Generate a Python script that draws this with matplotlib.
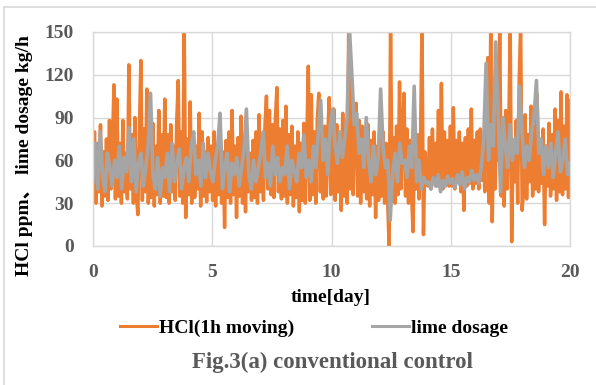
import numpy as np
import matplotlib
matplotlib.use("Agg")
import matplotlib.pyplot as plt
from matplotlib.lines import Line2D

# HCl (1h moving), 16 samples per day
hcl = [
    45, 80, 30, 72, 38, 85, 28, 66, 35, 75, 32, 88, 40, 70, 113, 33,
    103, 35, 72, 30, 88, 38, 65, 33, 127, 40, 78, 30, 90, 36, 22, 80,
    130, 32, 82, 38, 110, 30, 75, 34, 86, 28, 70, 36, 95, 30, 78, 35,
    103, 34, 78, 30, 85, 38, 70, 32, 88, 116, 35, 80, 30, 155, 20, 75,
    36, 101, 30, 78, 34, 70, 40, 93, 28, 80, 35, 66, 31, 76, 38, 70,
    32, 80, 28, 70, 36, 84, 30, 66, 13, 74, 34, 80, 30, 95, 36, 70,
    20, 76, 35, 91, 30, 70, 24, 78, 38, 65, 32, 74, 34, 80, 30, 92,
    38, 78, 32, 84, 105, 40, 95, 36, 85, 34, 90, 111, 38, 82, 33, 88,
    35, 98, 30, 78, 36, 84, 28, 70, 34, 80, 24, 72, 32, 86, 30, 76,
    126, 32, 106, 36, 80, 30, 88, 107, 38, 75, 33, 84, 35, 78, 104, 36,
    40, 96, 32, 85, 38, 78, 25, 93, 35, 80, 30, 155, 40, 110, 36, 90,
    100, 35, 88, 30, 84, 38, 78, 33, 85, 28, 74, 36, 80, 20, 70, 32,
    75, 35, 80, 30, 72, 34, 0, 155, 38, 76, 30, 84, 36, 115, 40, 80,
    107, 35, 82, 30, 74, 38, 10, 70, 40, 78, 33, 72, 155, 8, 66, 45,
    42, 76, 40, 82, 45, 72, 42, 95, 44, 114, 40, 80, 46, 74, 42, 84,
    42, 97, 40, 74, 45, 80, 38, 72, 25, 76, 42, 82, 44, 96, 40, 74,
    44, 80, 40, 82, 46, 76, 38, 86, 132, 30, 155, 17, 90, 40, 105, 60,
    155, 35, 84, 28, 95, 40, 78, 155, 3, 74, 45, 88, 30, 115, 155, 25,
    40, 92, 33, 78, 45, 98, 35, 84, 40, 106, 38, 74, 44, 82, 15, 70,
    42, 86, 35, 78, 40, 96, 32, 88, 38, 108, 36, 84, 40, 106, 34, 102,
]

# lime dosage, 10 samples per day
lime = [
    45, 72, 40, 80, 50, 38, 65, 55, 42, 60,
    48, 70, 40, 62, 52, 83, 45, 75, 38, 58,
    65, 42, 55, 70, 107, 50, 40, 62, 35, 55,
    48, 65, 38, 72, 45, 58, 68, 40, 55, 62,
    45, 70, 80, 50, 60, 42, 72, 48, 65, 52,
    45, 60, 70, 93, 40, 55, 65, 38, 58, 50,
    62, 42, 55, 68, 96, 50, 40, 60, 45, 55,
    65, 80, 48, 58, 42, 70, 50, 62, 45, 55,
    50, 70, 40, 60, 52, 45, 65, 55, 78, 48,
    60, 45, 70, 55, 80, 102, 60, 75, 50, 85,
    96, 70, 58, 80, 62, 75, 90, 152, 120, 85,
    93, 65, 75, 55, 90, 60, 45, 70, 50, 62,
    110, 70, 55, 60, 18, 50, 65, 45, 72, 58,
    60, 48, 70, 55, 112, 45, 60, 40, 48, 44,
    45, 40, 48, 42, 50, 38, 46, 42, 49, 44,
    47, 41, 50, 43, 52, 40, 48, 45, 53, 46,
    50, 44, 55, 75, 128, 60, 85, 70, 143, 95,
    38, 90, 70, 55, 85, 60, 75, 65, 112, 80,
    55, 70, 60, 80, 90, 116, 65, 75, 50, 70,
    55, 72, 48, 65, 80, 52, 60, 75, 50, 58,
]

t_hcl = np.linspace(0, 20, len(hcl))
t_lime = np.linspace(0, 20, len(lime))

serif = ["Liberation Serif", "Noto Sans CJK JP"]
tick_color = "#595959"
grid_color = "#D9D9D9"

fig = plt.figure(figsize=(5.96, 3.85), dpi=100)
ax = fig.add_axes([93 / 596, 1 - 246 / 385, 477 / 596, 214 / 385])

ax.plot(t_hcl, hcl, color="#ED7D31", lw=2.5, label="HCl(1h moving)")
ax.plot(t_lime, lime, color="#A5A5A5", lw=2.6, label="lime dosage")

ax.set_xlim(0, 20)
ax.set_ylim(0, 150)
ax.set_xticks([0, 5, 10, 15, 20])
ax.set_yticks([0, 30, 60, 90, 120, 150])
ax.grid(True, color=grid_color, lw=1)
ax.set_axisbelow(True)
for s in ax.spines.values():
    s.set_color(grid_color)
    s.set_linewidth(1)
ax.tick_params(axis="x", length=0, pad=13, labelcolor=tick_color)
ax.tick_params(axis="y", length=0, pad=14, labelcolor=tick_color)
for lab in ax.get_xticklabels() + ax.get_yticklabels():
    lab.set_fontfamily(serif)
    lab.set_fontweight("bold")
    lab.set_fontsize(14)

ax.set_xlabel("time[day]", family=serif, fontweight="bold", fontsize=14)
ax.xaxis.set_label_coords((331 - 93) / 477, -(297 - 246) / 214)
ax.set_ylabel("HCl ppm、 lime dosage kg/h", family=serif, fontweight="bold", fontsize=14)
ax.yaxis.set_label_coords((25 - 93) / 477, (246 - 156) / 214)
ax.xaxis.label.set_va("center")
ax.yaxis.label.set_va("center")

leg = fig.legend(loc="center", bbox_to_anchor=(314 / 596, 1 - 328 / 385), ncol=2,
                 frameon=False, prop={"family": serif, "weight": "bold", "size": 14},
                 handlelength=1.9, handletextpad=0.1, columnspacing=4.0)
for h in leg.legend_handles:
    h.set_linewidth(2.2)

fig.text(333 / 596, 1 - 362 / 385, "Fig.3(a) conventional control", ha="center", va="center",
         family=serif, fontweight="bold", fontsize=16.5, color=tick_color)

# chart frame (left and top edges visible)
fig.add_artist(Line2D([3.5 / 596, 3.5 / 596], [0, 1 - 6.5 / 385], transform=fig.transFigure,
                      color="#D9D9D9", lw=1.2))
fig.add_artist(Line2D([3.5 / 596, 1], [1 - 6.5 / 385, 1 - 6.5 / 385], transform=fig.transFigure,
                      color="#D9D9D9", lw=1.2))

fig.savefig("out.png", dpi=100)
